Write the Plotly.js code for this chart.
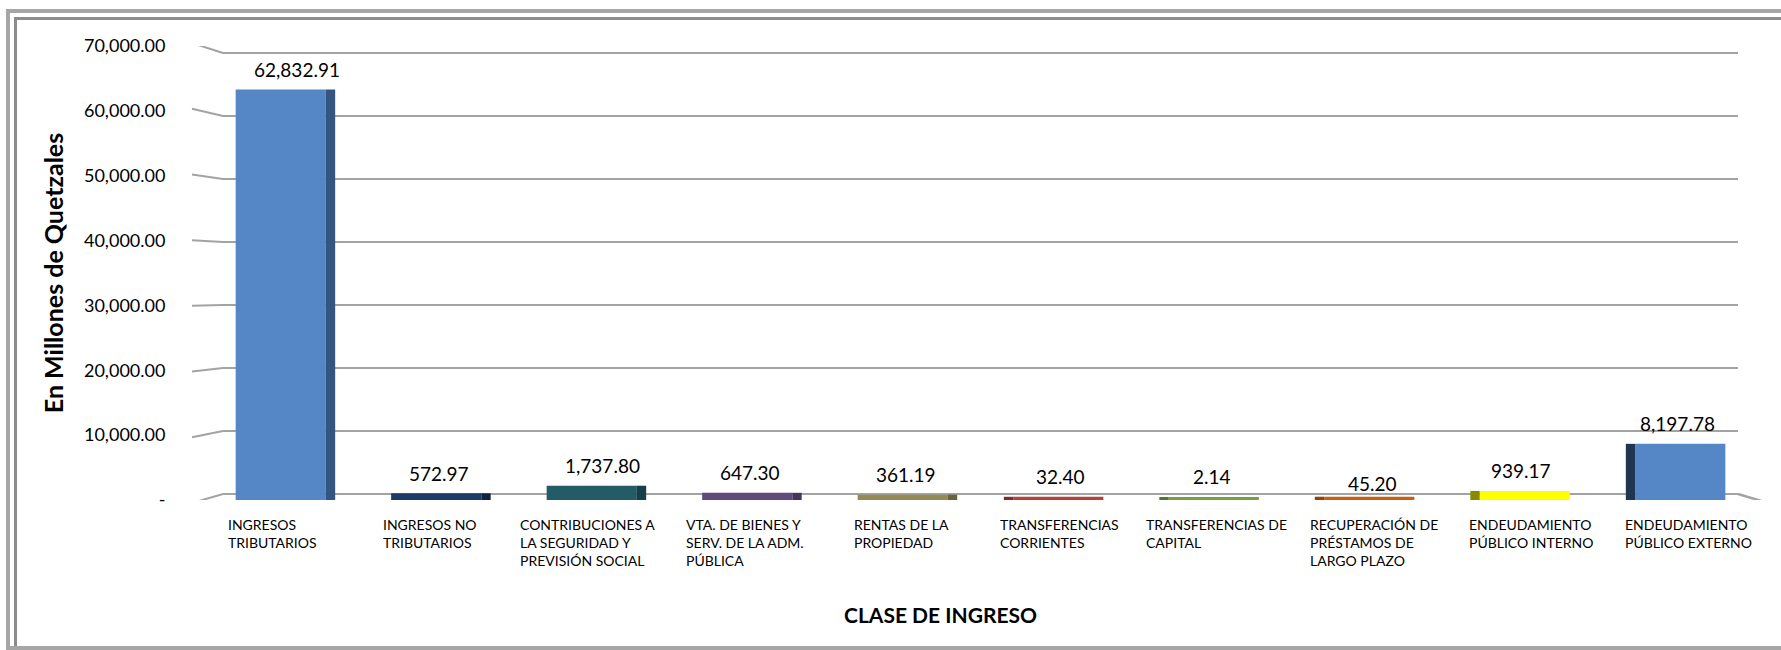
<!DOCTYPE html>
<html>
<head>
<meta charset="utf-8">
<script src="https://cdn.plot.ly/plotly-3.0.1.min.js"></script>
<style>
  html, body { margin: 0; padding: 0; background: #ffffff; overflow: hidden; }
  #wrap { position: relative; width: 1781px; height: 650px; overflow: hidden; }
  #chart { position: absolute; left: 0; top: 0; width: 1781px; height: 650px; }
  .frame { position: absolute; pointer-events: none; box-sizing: border-box; }
  #outer { left: 6px; top: 9px; width: 1820px; height: 641px;
           border-top: 4px solid #a6a6a6; border-left: 4px solid #a6a6a6; border-bottom: 4px solid #a6a6a6; }
  #inner { left: 14px; top: 17px; width: 1820px; height: 629px;
           border-top: 3px solid #8c8c8c; border-left: 3px solid #8c8c8c; }
</style>
</head>
<body>
<div id="wrap">
  <div id="chart"></div>
  <div id="outer" class="frame"></div>
  <div id="inner" class="frame"></div>
</div>
<script>
// ---- data ----
const categories = [
  "INGRESOS TRIBUTARIOS",
  "INGRESOS NO TRIBUTARIOS",
  "CONTRIBUCIONES A LA SEGURIDAD Y PREVISIÓN SOCIAL",
  "VTA. DE BIENES Y SERV. DE LA ADM. PÚBLICA",
  "RENTAS DE LA PROPIEDAD",
  "TRANSFERENCIAS CORRIENTES",
  "TRANSFERENCIAS DE CAPITAL",
  "RECUPERACIÓN DE PRÉSTAMOS DE LARGO PLAZO",
  "ENDEUDAMIENTO PÚBLICO INTERNO",
  "ENDEUDAMIENTO PÚBLICO EXTERNO"
];
const categoryLabels = [
  "INGRESOS<br>TRIBUTARIOS",
  "INGRESOS NO<br>TRIBUTARIOS",
  "CONTRIBUCIONES A<br>LA SEGURIDAD Y<br>PREVISIÓN SOCIAL",
  "VTA. DE BIENES Y<br>SERV. DE LA ADM.<br>PÚBLICA",
  "RENTAS DE LA<br>PROPIEDAD",
  "TRANSFERENCIAS<br>CORRIENTES",
  "TRANSFERENCIAS DE<br>CAPITAL",
  "RECUPERACIÓN DE<br>PRÉSTAMOS DE<br>LARGO PLAZO",
  "ENDEUDAMIENTO<br>PÚBLICO INTERNO",
  "ENDEUDAMIENTO<br>PÚBLICO EXTERNO"
];
const values = [62832.91, 572.97, 1737.80, 647.30, 361.19, 32.40, 2.14, 45.20, 939.17, 8197.78];
const yTickValues = [0, 10000, 20000, 30000, 40000, 50000, 60000, 70000];
const yTickLabels = ["-", "10,000.00", "20,000.00", "30,000.00", "40,000.00", "50,000.00", "60,000.00", "70,000.00"];
const xTitle = "CLASE DE INGRESO";
const yTitle = "En Millones de Quetzales";

// ---- styles ----
const faceColors = ["#5587c6", "#1c3b66", "#235b67", "#604a7b", "#948a54", "#b3433f", "#77a040", "#c8600f", "#ffff00", "#5587c6"];
const sideColors = ["#34557f", "#10243f", "#163f48", "#45355a", "#6b633b", "#7f2d2b", "#55742d", "#8f450a", "#8a8a00", "#1f3550"];
const labelNudge = [[16, 0], [3, 0], [11, 0], [3, 0], [3, 0], [2, 0], [-2, 0], [3, -7], [-4, 0], [-3, 0]];
const FONT = "Lato, 'Open Sans', sans-serif";

// geometry of the plot box (pixels)
const W = 1781, H = 650;
const L = 203, R = 23, T = 46, B = 150;
const pw = W - L - R, ph = H - T - B;
const yMax = 70000;
function pyToData(py) { return (H - B - py) / ph * yMax; }
function pxToPaper(px) { return (px - L) / pw; }
function pyToPaper(py) { return (H - B - py) / ph; }

const shapes = [];
const gridColor = "#a3a3a3";
yTickValues.forEach(v => {
  const yFront = 503 - v * 460 / yMax;
  const yBack = 494 - v * 441 / yMax;
  shapes.push({type: "line", layer: "below", xref: "paper", yref: "y",
    x0: pxToPaper(192), y0: pyToData(yFront), x1: pxToPaper(223), y1: pyToData(yBack),
    line: {color: gridColor, width: 2}});
  shapes.push({type: "line", layer: "below", xref: "paper", yref: "y",
    x0: pxToPaper(223), y0: pyToData(yBack), x1: pxToPaper(1738), y1: pyToData(yBack),
    line: {color: gridColor, width: 2}});
});
// floor front edge and right edge
shapes.push({type: "line", layer: "below", xref: "paper", yref: "y",
  x0: pxToPaper(192), y0: pyToData(503), x1: pxToPaper(1768), y1: pyToData(503),
  line: {color: gridColor, width: 2.5}});
shapes.push({type: "line", layer: "below", xref: "paper", yref: "y",
  x0: pxToPaper(1738), y0: pyToData(494), x1: pxToPaper(1768), y1: pyToData(503),
  line: {color: gridColor, width: 2.5}});

const idx = values.map((_, i) => i);
const faceWidth = 0.58, sideWidth = 0.06;
const depth = 3 / ph * yMax;   // visible depth of the 3D top face (about 3 px)

const faceTrace = {
  type: "bar", x: categories, y: values.map(v => v + depth),
  width: faceWidth, offset: -faceWidth / 2,
  marker: {color: faceColors, line: {width: 0}},
  hoverinfo: "skip", showlegend: false
};
const sideTrace = {
  type: "bar", x: categories, y: values.map(v => v + depth),
  width: sideWidth,
  offset: idx.map(i => i < 5 ? faceWidth / 2 : -faceWidth / 2 - sideWidth),
  marker: {color: sideColors, line: {width: 0}},
  hoverinfo: "skip", showlegend: false
};

function fmt(v) {
  return v.toLocaleString("en-US", {minimumFractionDigits: 2, maximumFractionDigits: 2});
}

const annotations = [];
values.forEach((v, i) => {
  annotations.push({
    x: categories[i], y: v, xref: "x", yref: "y",
    text: fmt(v), showarrow: false,
    xanchor: "center", yanchor: "middle",
    xshift: labelNudge[i][0], yshift: 23 + labelNudge[i][1],
    font: {family: FONT, size: 19, color: "#000000"}
  });
  annotations.push({
    x: categories[i], y: -0.03, xref: "x", yref: "paper",
    text: categoryLabels[i], showarrow: false,
    xanchor: "center", yanchor: "top", align: "left",
    xshift: -8 + 1.8 * i,
    font: {family: FONT, size: 14, color: "#000000"}
  });
});
// x-axis title (centred where the reference draws it)
annotations.push({
  x: pxToPaper(940), y: pyToPaper(614), xref: "paper", yref: "paper",
  text: xTitle, showarrow: false, xanchor: "center", yanchor: "middle",
  font: {family: FONT, size: 21, weight: "bold", color: "#000000"}
});

const layout = {
  width: W, height: H,
  margin: {l: L, r: R, t: T, b: B, pad: 0},
  paper_bgcolor: "#ffffff", plot_bgcolor: "rgba(0,0,0,0)",
  barmode: "overlay",
  font: {family: FONT, color: "#000000"},
  xaxis: {
    type: "category", range: [-0.5, 9.5],
    showticklabels: false, showgrid: false, zeroline: false, showline: false, ticks: ""
  },
  yaxis: {
    range: [0, yMax], tickvals: yTickValues, ticktext: yTickLabels,
    showgrid: false, zeroline: false, showline: false,
    ticks: "outside", ticklen: 33, tickcolor: "rgba(0,0,0,0)",
    tickfont: {family: FONT, size: 18, color: "#000000"},
    title: {text: yTitle, standoff: 13,
            font: {family: FONT, size: 25, weight: "bold", color: "#000000"}}
  },
  shapes: shapes,
  annotations: annotations
};

Plotly.newPlot("chart", [faceTrace, sideTrace], layout, {displayModeBar: false, staticPlot: true});
</script>
</body>
</html>
